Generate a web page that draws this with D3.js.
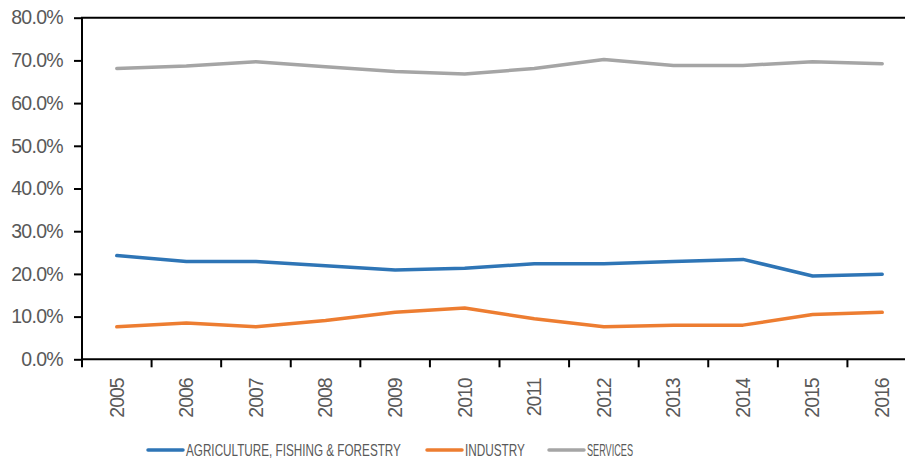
<!DOCTYPE html>
<html>
<head>
<meta charset="utf-8">
<script src="https://cdn.jsdelivr.net/npm/d3@7"></script>
<style>
  body { margin: 0; background: #fff; }
  svg { display: block; font-family: "Liberation Sans", Arial, sans-serif; }
</style>
</head>
<body>
<svg id="chart" width="905" height="459"></svg>
<script>
'use strict';
// Data
const years = ['2005', '2006', '2007', '2008', '2009', '2010', '2011', '2012', '2013', '2014', '2015', '2016'];
const agriculture = [0.243, 0.229, 0.229, 0.219, 0.209, 0.213, 0.224, 0.224, 0.229, 0.234, 0.195, 0.199];
const industry = [0.076, 0.085, 0.076, 0.091, 0.110, 0.120, 0.095, 0.076, 0.080, 0.080, 0.105, 0.110];
const services = [0.681, 0.687, 0.697, 0.685, 0.674, 0.668, 0.681, 0.702, 0.688, 0.688, 0.697, 0.692];
const seriesNames = ['AGRICULTURE, FISHING & FORESTRY', 'INDUSTRY', 'SERVICES'];
const yTicks = [0, 0.1, 0.2, 0.3, 0.4, 0.5, 0.6, 0.7, 0.8];

const colors = ['#2E75B6', '#ED7D31', '#A5A5A5'];
const series = [agriculture, industry, services];

const svg = d3.select('#chart');
const plotLeft = 82, plotRight = 917, plotTop = 17.7, plotBottom = 359.3;

const x = d3.scaleBand().domain(years).range([plotLeft, plotRight]);
const y = d3.scaleLinear().domain([0, 0.8]).range([plotBottom, plotTop]);

// Y axis with labels
const yAxis = svg.append('g')
  .attr('transform', `translate(${plotLeft},0)`)
  .call(d3.axisLeft(y).tickValues(yTicks).tickFormat(d3.format('.1%')).tickSize(8).tickPadding(11));
yAxis.select('.domain').remove();
yAxis.selectAll('line').attr('stroke', '#000').attr('stroke-width', 2);
yAxis.selectAll('text')
  .attr('fill', '#595959')
  .style('font-size', '19.5px')
  .style('letter-spacing', '-0.7px');

// X labels (rotated), ticks drawn between categories
const xAxis = svg.append('g')
  .attr('transform', `translate(0,${plotBottom})`)
  .call(d3.axisBottom(x).tickSize(0).tickPadding(0));
xAxis.select('.domain').remove();
xAxis.selectAll('text')
  .attr('fill', '#595959')
  .style('font-size', '19.5px')
  .style('letter-spacing', '-1px')
  .attr('text-anchor', 'end')
  .attr('y', 0)
  .attr('dy', '0.35em')
  .attr('transform', 'translate(0,19) rotate(-90)');

const boundaries = d3.range(years.length + 1).map(i => plotLeft + i * x.step());
svg.append('g').selectAll('line').data(boundaries).join('line')
  .attr('x1', d => d).attr('x2', d => d)
  .attr('y1', plotBottom).attr('y2', plotBottom + 8)
  .attr('stroke', '#000').attr('stroke-width', 2);

// Frame: left axis, bottom axis, top border
svg.append('line').attr('x1', plotLeft).attr('x2', plotLeft).attr('y1', plotTop).attr('y2', plotBottom + 1)
  .attr('stroke', '#000').attr('stroke-width', 2);
svg.append('line').attr('x1', plotLeft).attr('x2', plotRight).attr('y1', plotBottom).attr('y2', plotBottom)
  .attr('stroke', '#000').attr('stroke-width', 2);
svg.append('line').attr('x1', plotLeft - 1).attr('x2', plotRight).attr('y1', plotTop).attr('y2', plotTop)
  .attr('stroke', '#000').attr('stroke-width', 2);

// Lines
const line = d3.line()
  .x((d, i) => x(years[i]) + x.bandwidth() / 2)
  .y(d => y(d));
svg.append('g').selectAll('path').data(series).join('path')
  .attr('d', line)
  .attr('fill', 'none')
  .attr('stroke', (d, i) => colors[i])
  .attr('stroke-width', 3.5)
  .attr('stroke-linejoin', 'round')
  .attr('stroke-linecap', 'round');

// Legend (text squeezed horizontally to match the narrow legend font)
const legendX = [148, 427, 549];
const legendTextLen = [215, 60, 46];
const legend = svg.append('g').attr('transform', 'translate(0,450)');
const items = legend.selectAll('g').data(seriesNames).join('g')
  .attr('transform', (d, i) => `translate(${legendX[i]},0)`);
items.append('line')
  .attr('x1', 0).attr('x2', 35).attr('y1', 0).attr('y2', 0)
  .attr('stroke', (d, i) => colors[i]).attr('stroke-width', 3.5)
  .attr('stroke-linecap', 'round');
items.append('text')
  .attr('fill', '#595959')
  .style('font-size', '16px')
  .text(d => d)
  .attr('transform', function(d, i) {
    const w = this.getComputedTextLength();
    return `translate(38,6) scale(${legendTextLen[i] / w},1)`;
  });
</script>
</body>
</html>
